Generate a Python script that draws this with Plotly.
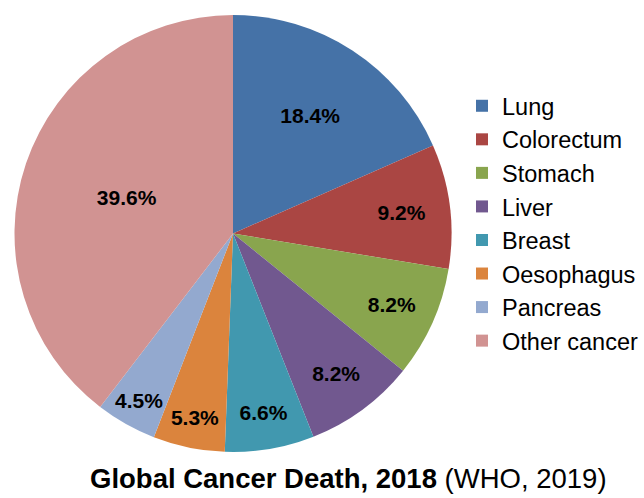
import plotly.graph_objects as go

categories = ["Lung", "Colorectum", "Stomach", "Liver", "Breast", "Oesophagus", "Pancreas", "Other cancer"]
values = [18.4, 9.2, 8.2, 8.2, 6.6, 5.3, 4.5, 39.6]
colors = ["#4572A7", "#AA4643", "#89A54E", "#71588F", "#4198AF", "#DB843D", "#93A9CF", "#D19392"]

W, H = 644, 498
font = "Arial"

fig = go.Figure(go.Pie(
    labels=categories,
    values=values,
    sort=False,
    direction="clockwise",
    rotation=0,
    marker=dict(colors=colors, line=dict(width=0)),
    texttemplate="%{value:.1f}%",
    textposition="inside",
    insidetextorientation="horizontal",
    textfont=dict(family=font, size=21, color="black", weight="bold"),
    domain=dict(x=[14 / W, 452 / W], y=[1 - 452 / H, 1 - 15 / H]),
    hoverinfo="label+percent",
))

fig.update_layout(
    width=W, height=H,
    margin=dict(l=0, r=0, t=0, b=0),
    paper_bgcolor="white",
    plot_bgcolor="white",
    font=dict(family=font, color="black"),
    showlegend=True,
    legend=dict(
        x=462 / W, xanchor="left",
        y=1 - 84 / H, yanchor="top",
        font=dict(family=font, size=23.5, color="black"),
        bgcolor="rgba(0,0,0,0)",
        itemwidth=30,
    ),
    uniformtext=dict(minsize=21, mode="show"),
    annotations=[dict(
        text="<b>Global Cancer Death, 2018</b> (WHO, 2019)",
        x=348 / W, y=1 - 478 / H, xref="paper", yref="paper",
        xanchor="center", yanchor="middle", showarrow=False,
        font=dict(family=font, size=27.5, color="black"),
    )],
)

fig.write_html("out.html", config={"displayModeBar": False},
               post_script="document.body.style.margin='0';")
